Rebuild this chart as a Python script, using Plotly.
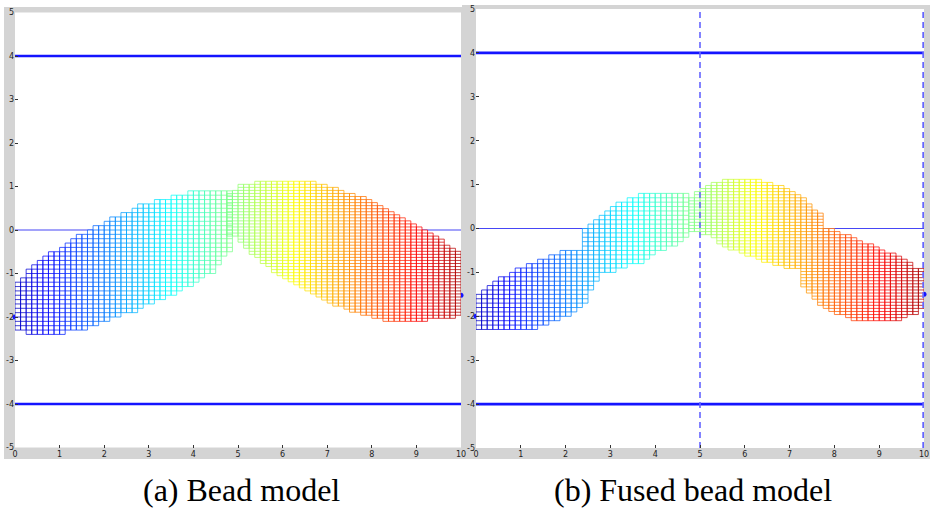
import numpy as np
import plotly.graph_objects as go

# ---------------- data ----------------
x_ticks = [0, 1, 2, 3, 4, 5, 6, 7, 8, 9, 10]
y_ticks = [-5, -4, -3, -2, -1, 0, 1, 2, 3, 4, 5]
x_range = [0, 10]
y_range = [-5, 5]

wall_levels = [4, -4]        # thick blue bounds
mid_levels = [0]             # thin blue centre line
path_x = [0, 10]             # bead path end points (blue dots)
path_y = [-2, -1.5]
fused_cuts = [5, 10]         # dashed lines in panel (b)

captions = ["(a) Bead model", "(b) Fused bead model"]

# panel (a) bead outlines (polygon vertices)
a_left_x = [0.0, 0.2, 0.47, 0.73, 1.13, 1.5, 1.79, 2.28, 2.8, 3.25, 3.51, 4.15, 4.92,
            4.92, 4.7, 4.52, 3.66, 2.65, 1.5, 0.9, 0.34, 0.0]
a_left_y = [-1.25, -1.04, -0.79, -0.58, -0.33, -0.1, 0.05, 0.32, 0.55, 0.67, 0.78, 0.89, 0.89,
            -0.45, -0.6, -0.9, -1.43, -1.87, -2.28, -2.39, -2.39, -2.23]
a_right_x = [4.78, 5.08, 5.49, 6.69, 7.13, 7.74, 8.33, 8.78, 9.15, 9.45, 9.75, 10.0,
             10.0, 9.53, 8.41, 7.58, 6.99, 6.46, 6.09, 5.72, 5.34, 5.08, 4.9, 4.78]
a_right_y = [0.82, 1.05, 1.1, 1.1, 0.97, 0.78, 0.47, 0.25, 0.02, -0.14, -0.4, -0.51,
             -1.97, -2.05, -2.1, -1.89, -1.63, -1.32, -1.13, -0.9, -0.56, -0.29, -0.14, -0.1]

# panel (b) fused bead outlines
b_left_x = [0.0, 0.07, 0.22, 0.39, 0.61, 0.8, 0.98, 1.17, 1.35, 1.5, 1.69, 1.88, 2.06, 2.43,
            2.43, 2.58, 2.69, 2.84, 3.06, 3.21, 3.47, 3.73, 4.8,
            4.8, 4.55, 4.29, 4.03, 3.77, 3.51, 3.25, 2.99, 2.77, 2.5, 2.43, 2.1, 1.88, 1.5, 1.28, 0.0]
b_left_y = [-1.56, -1.54, -1.34, -1.23, -1.09, -1.0, -0.91, -0.81, -0.76, -0.68, -0.62, -0.55, -0.49, -0.47,
            -0.02, 0.14, 0.25, 0.36, 0.48, 0.58, 0.68, 0.78, 0.78,
            -0.13, -0.32, -0.43, -0.51, -0.74, -0.81, -0.89, -0.98, -1.05, -1.5, -1.72, -1.95, -2.07, -2.2, -2.28, -2.28]
b_right_x = [4.8, 4.96, 5.11, 5.3, 5.6, 6.38, 6.64, 6.94, 7.16, 7.34, 7.49, 7.6, 7.72,
             7.72, 7.98, 8.24, 8.5, 8.68, 8.91, 9.13, 9.35, 9.54, 9.73, 9.87, 10.0,
             10.0, 9.8, 9.35, 8.65, 8.39, 8.09, 7.86, 7.68, 7.49, 7.31,
             7.31, 6.94, 6.56, 6.26, 5.97, 5.6, 5.37, 5.22, 5.0, 4.8]
b_right_y = [0.72, 0.82, 0.97, 1.03, 1.1, 1.1, 1.03, 0.93, 0.82, 0.67, 0.51, 0.4, 0.29,
             0.02, -0.02, -0.13, -0.24, -0.32, -0.43, -0.51, -0.59, -0.66, -0.81, -0.93, -0.95,
             -1.8, -1.95, -2.1, -2.12, -2.07, -1.95, -1.84, -1.71, -1.53, -1.31,
             -0.95, -0.88, -0.78, -0.68, -0.57, -0.43, -0.28, -0.17, -0.08, -0.05]

# ---------------- styling / geometry helpers ----------------
W, H = 930, 515
GREY = "#d4d4d4"
CELL_DX = 0.125
ROW_DY_LEFT = 0.1
ROW_DY_RIGHT = 0.07


def jet(v, alpha=0.74):
    frac = (v - x_range[0]) / (x_range[1] - x_range[0])
    t = 0.06 + 0.9 * frac
    r = float(np.clip(1.5 - abs(4 * t - 3), 0, 1))
    g = float(np.clip(1.5 - abs(4 * t - 2), 0, 1))
    b = float(np.clip(1.5 - abs(4 * t - 1), 0, 1))
    return f"rgba({int(r*255)},{int(g*255)},{int(b*255)},{alpha})"


def inside(px, pys, vx, vy):
    vx = np.asarray(vx, float)
    vy = np.asarray(vy, float)
    res = np.zeros(pys.shape, bool)
    j = len(vx) - 1
    for i in range(len(vx)):
        xi, yi, xj, yj = vx[i], vy[i], vx[j], vy[j]
        crosses = (yi > pys) != (yj > pys)
        with np.errstate(divide="ignore", invalid="ignore"):
            xint = (xj - xi) * (pys - yi) / (yj - yi) + xi
        res ^= crosses & (px < xint)
        j = i
    return res


def build_mesh(vx, vy, dx, dy):
    cols = []
    x_lefts = np.arange(0, 10 - 1e-9, dx)
    y0 = np.floor(min(vy) / dy) * dy
    y_bottoms = np.arange(y0, max(vy) + dy, dy)
    for xl in x_lefts:
        m = inside(xl + dx / 2, y_bottoms + dy / 2, vx, vy)
        if not m.any():
            continue
        idx = np.where(m)[0]
        runs = np.split(idx, np.where(np.diff(idx) != 1)[0] + 1)
        cols.append((xl, xl + dx, [(y_bottoms[r[0]], len(r)) for r in runs]))
    return cols


def px_x(p):
    return p / W


def px_y(p):
    return 1 - p / H


panels = [
    dict(xd=(15, 461), yd=(12.5, 447.5), grey=(4, 7, 467, 459),
         polys=[(a_left_x, a_left_y, ROW_DY_LEFT), (a_right_x, a_right_y, ROW_DY_RIGHT)],
         cuts=[], cap_x=241, axes=("x", "y")),
    dict(xd=(476, 924), yd=(9, 448), grey=(462, 5, 930, 459),
         polys=[(b_left_x, b_left_y, ROW_DY_LEFT), (b_right_x, b_right_y, ROW_DY_RIGHT)],
         cuts=fused_cuts, cap_x=693, axes=("x2", "y2")),
]

fig = go.Figure()
shapes = []
annotations = []

for k, pn in enumerate(panels):
    xa, ya = pn["axes"]
    gx0, gy0, gx1, gy1 = pn["grey"]
    shapes.append(dict(type="rect", xref="paper", yref="paper", layer="below",
                       x0=px_x(gx0), x1=px_x(gx1), y0=px_y(gy1), y1=px_y(gy0),
                       fillcolor=GREY, line=dict(width=0)))
    shapes.append(dict(type="rect", xref="paper", yref="paper", layer="below",
                       x0=px_x(pn["xd"][0]), x1=px_x(pn["xd"][1]),
                       y0=px_y(pn["yd"][1]), y1=px_y(pn["yd"][0]),
                       fillcolor="white", line=dict(width=0)))

    # guide lines
    for lv in wall_levels:
        fig.add_trace(go.Scatter(x=x_range, y=[lv, lv], mode="lines", xaxis=xa, yaxis=ya,
                                 line=dict(color="rgb(20,20,255)", width=2.6),
                                 hoverinfo="skip", showlegend=False))
    for lv in mid_levels:
        fig.add_trace(go.Scatter(x=x_range, y=[lv, lv], mode="lines", xaxis=xa, yaxis=ya,
                                 line=dict(color="rgb(70,70,245)", width=1.2),
                                 hoverinfo="skip", showlegend=False))
    fig.add_trace(go.Scatter(x=path_x, y=path_y, mode="markers", xaxis=xa, yaxis=ya,
                             marker=dict(color="rgb(20,20,255)", size=5), cliponaxis=False,
                             hoverinfo="skip", showlegend=False))

    meshes = [(build_mesh(vx, vy, CELL_DX, dy), dy) for vx, vy, dy in pn["polys"]]

    # white faces
    for cols, dy in meshes:
        fx, fy = [], []
        for xl, xr, runs in cols:
            for yb, n in runs:
                yt = yb + n * dy
                fx += [xl, xr, xr, xl, xl, None]
                fy += [yb, yb, yt, yt, yb, None]
        fig.add_trace(go.Scatter(x=fx, y=fy, mode="lines", fill="toself", fillcolor="white",
                                 line=dict(width=0, color="white"), xaxis=xa, yaxis=ya,
                                 hoverinfo="skip", showlegend=False))
    # coloured cell edges
    for cols, dy in meshes:
        for xl, xr, runs in cols:
            sx, sy = [], []
            for yb, n in runs:
                yt = yb + n * dy
                sx += [xl, xl, None, xr, xr, None]
                sy += [yb, yt, None, yb, yt, None]
                for r in range(n + 1):
                    yy = yb + r * dy
                    sx += [xl, xr, None]
                    sy += [yy, yy, None]
            fig.add_trace(go.Scatter(x=sx, y=sy, mode="lines", xaxis=xa, yaxis=ya,
                                     line=dict(color=jet((xl + xr) / 2), width=1),
                                     hoverinfo="skip", showlegend=False))

    for cx in pn["cuts"]:
        at_edge = cx in x_range
        fig.add_trace(go.Scatter(x=[cx, cx], y=y_range, mode="lines", xaxis=xa, yaxis=ya,
                                 line=dict(color="rgb(100,100,255)", width=3.4 if at_edge else 1.6,
                                           dash="6px,4px"),
                                 hoverinfo="skip", showlegend=False))

    annotations.append(dict(text=captions[k], xref="paper", yref="paper",
                            x=px_x(pn["cap_x"]), y=px_y(490), xanchor="center", yanchor="middle",
                            showarrow=False,
                            font=dict(family="Liberation Serif, Times New Roman, serif",
                                      size=32, color="black")))

axis_common = dict(showgrid=False, zeroline=False, showline=False, ticks="inside",
                   ticklen=3, tickwidth=1, tickcolor="#333", automargin=False,
                   tickfont=dict(family="DejaVu Sans, sans-serif", size=8, color="#222"),
                   fixedrange=True)

fig.update_layout(
    width=W, height=H, margin=dict(l=0, r=0, t=0, b=0),
    paper_bgcolor="white", plot_bgcolor="rgba(0,0,0,0)",
    showlegend=False, shapes=shapes, annotations=annotations,
    xaxis=dict(domain=[px_x(15), px_x(461)], range=x_range, tickvals=x_ticks,
               ticktext=[str(v) for v in x_ticks], anchor="y", **axis_common),
    yaxis=dict(domain=[px_y(447.5), px_y(12.5)], range=y_range, tickvals=y_ticks,
               ticktext=[str(v) for v in y_ticks], anchor="x", **axis_common),
    xaxis2=dict(domain=[px_x(476), px_x(924)], range=x_range, tickvals=x_ticks,
                ticktext=[str(v) for v in x_ticks], anchor="y2", **axis_common),
    yaxis2=dict(domain=[px_y(448), px_y(9)], range=y_range, tickvals=y_ticks,
                ticktext=[str(v) for v in y_ticks], anchor="x2", **axis_common),
)

fig.write_html("out.html", config={"displayModeBar": False},
               post_script="document.body.style.margin='0';document.body.style.overflow='hidden';")
